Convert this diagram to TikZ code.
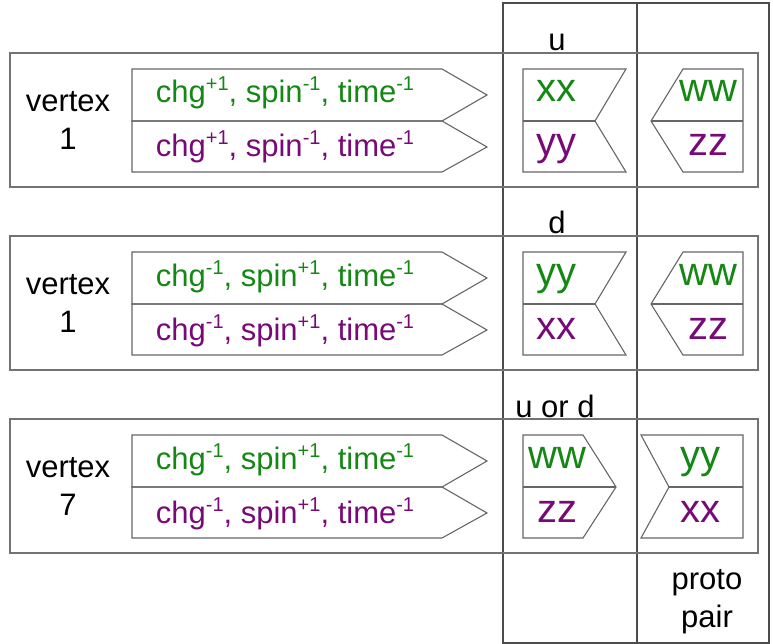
\documentclass[tikz,border=0pt]{standalone}
\usepackage{fontspec}
\setmainfont{Liberation Sans}
\definecolor{qgreen}{RGB}{20,135,20}
\definecolor{qpurple}{RGB}{120,10,120}
\newcommand{\pwr}[1]{\raisebox{12pt}{\fontsize{20}{20}\selectfont #1}}
\tikzset{
  colbox/.style={draw=black!70, line width=1.1pt},
  rowbox/.style={draw=black!55, line width=1.4pt},
  tag/.style={draw=black!60, line width=1.1pt, line join=miter},
  vlabel/.style={align=center, font=\fontsize{31}{38}\selectfont, inner sep=0pt},
  qlabel/.style={anchor=base, font=\fontsize{31}{38}\selectfont, inner sep=0pt},
  ptop/.style={qlabel, text=qgreen},
  pbot/.style={qlabel, text=qpurple},
  ltop/.style={anchor=base, inner sep=0pt, text=qgreen, font=\fontsize{40}{40}\selectfont},
  lbot/.style={anchor=base, inner sep=0pt, text=qpurple, font=\fontsize{40}{40}\selectfont}
}

\begin{document}
\begin{tikzpicture}[x=1pt, y=-1pt]
  \useasboundingbox (0,0) rectangle (773,644);

  % the two columns
  \draw [colbox] (503,3) rectangle (637,643);
  \draw [colbox] (637,3) rectangle (769,643);

  % rows
  \draw [rowbox] (10,53) rectangle (758,187);
  \draw [rowbox] (10,236) rectangle (758,370);
  \draw [rowbox] (10,419) rectangle (758,553);

  % arrow strips
  \foreach \t in {53,236,419} {
    \draw [tag] (132,\t+16) -- (442,\t+16) -- (487,\t+42) -- (442,\t+68) -- (132,\t+68) -- cycle;
    \draw [tag] (132,\t+68) -- (442,\t+68) -- (487,\t+94) -- (442,\t+119) -- (132,\t+119) -- cycle;
  }
  \foreach \t in {53,236} {
    \draw [tag] (523,\t+16) -- (626,\t+16) -- (595,\t+68) -- (626,\t+119) -- (523,\t+119) -- cycle;
    \draw [tag] (523,\t+68) -- (595,\t+68);
    \draw [tag] (683,\t+16) -- (743,\t+16) -- (743,\t+119) -- (683,\t+119) -- (651,\t+68) -- cycle;
    \draw [tag] (651,\t+68) -- (743,\t+68);
  }
  \draw [tag] (523,435) -- (583,435) -- (616,487) -- (583,538) -- (523,538) -- cycle;
  \draw [tag] (523,487) -- (616,487);
  \draw [tag] (641,435) -- (743,435) -- (743,538) -- (641,538) -- (669,487) -- cycle;
  \draw [tag] (669,487) -- (743,487);

  % labels
  \node (u) [qlabel] at (557,51) {u};
  \node (d) [qlabel] at (557,234) {d};
  \node (uord) [qlabel] at (555,417) {u or d};
  \node (proto) [vlabel] at (707,602) {proto\\pair};

  \node (vtxa) [vlabel] at (68,120) {vertex\\1};
  \node (vtxb) [vlabel] at (68,303) {vertex\\1};
  \node (vtxc) [vlabel] at (68,486) {vertex\\7};

  \node (pa1) [ptop] at (285,103) {chg\pwr{+1}, spin\pwr{-1}, time\pwr{-1}};
  \node (pa2) [pbot] at (285,157) {chg\pwr{+1}, spin\pwr{-1}, time\pwr{-1}};
  \node (pb1) [ptop] at (285,286) {chg\pwr{-1}, spin\pwr{+1}, time\pwr{-1}};
  \node (pb2) [pbot] at (285,340) {chg\pwr{-1}, spin\pwr{+1}, time\pwr{-1}};
  \node (pc1) [ptop] at (285,469) {chg\pwr{-1}, spin\pwr{+1}, time\pwr{-1}};
  \node (pc2) [pbot] at (285,523) {chg\pwr{-1}, spin\pwr{+1}, time\pwr{-1}};

  \node (ua) [ltop] at (556,102) {xx};
  \node (ub) [lbot] at (556,156) {yy};
  \node (uc) [ltop] at (708,102) {ww};
  \node (ud) [lbot] at (708,156) {zz};
  \node (da) [ltop] at (556,285) {yy};
  \node (db) [lbot] at (556,339) {xx};
  \node (dc) [ltop] at (708,285) {ww};
  \node (dd) [lbot] at (708,339) {zz};
  \node (ea) [ltop] at (557,468) {ww};
  \node (eb) [lbot] at (557,522) {zz};
  \node (ec) [ltop] at (700,468) {yy};
  \node (ed) [lbot] at (700,522) {xx};
\end{tikzpicture}
\end{document}
